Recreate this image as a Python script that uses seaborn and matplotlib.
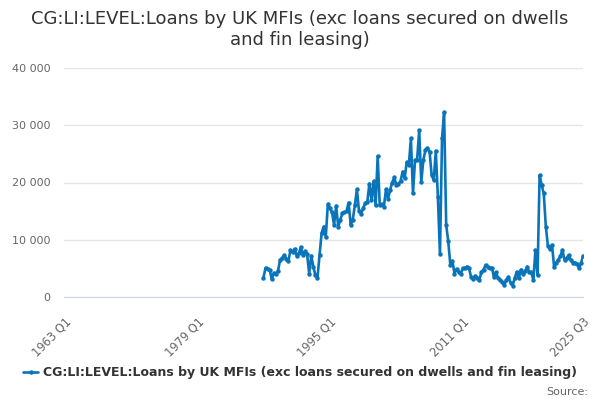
import numpy as np
import pandas as pd
import matplotlib
matplotlib.use("Agg")
import matplotlib.pyplot as plt
import seaborn as sns

title = "CG:LI:LEVEL:Loans by UK MFIs (exc loans secured on dwells\nand fin leasing)"
series_name = "CG:LI:LEVEL:Loans by UK MFIs (exc loans secured on dwells and fin leasing)"

first_year = 1963
last_year, last_q = 2025, 3
data_start = "1987 Q1"

# quarterly values, 1987 Q1 .. 2025 Q3
values = [
    3400, 5100, 4900, 4700, 3100, 4200, 4000, 4600,
    6500, 6800, 7300, 6700, 6300, 8200, 7800, 8400,
    7200, 7600, 8700, 7300, 8000, 7500, 4100, 7200,
    5300, 3800, 3400, 7300, 11200, 12300, 10500, 16200,
    15500, 14800, 12600, 15900, 12300, 13500, 14600, 14800,
    15000, 16500, 12600, 13500, 16000, 18800, 15000, 14500,
    15500, 16400, 16600, 19800, 17000, 20200, 16000, 24600,
    16000, 16200, 15800, 18800, 17200, 18700, 20000, 20900,
    19500, 19800, 20200, 21900, 20700, 23600, 23000, 27700,
    18100, 23900, 24000, 29100, 20100, 23900, 25700, 26000,
    25400, 21300, 20400, 25500, 17500, 7500, 27700, 32300,
    12600, 9700, 5600, 6300, 4100, 4900, 4300, 4000,
    5000, 5100, 5300, 5000, 3500, 3200, 3700, 3300,
    3000, 4400, 4800, 5600, 5200, 5000, 5100, 3500,
    4300, 3300, 3000, 2600, 2100, 3000, 3500, 2500,
    2000, 3300, 4400, 3300, 4800, 4000, 4500, 5300,
    4300, 4300, 3000, 8200, 3800, 21300, 19500, 18100,
    12300, 8900, 8400, 9100, 5200, 6000, 6500, 7100,
    8200, 6500, 6800, 7300, 6500, 6000, 6000, 5800,
    5000, 6000, 7200,
]

quarters = [f"{y} Q{q}" for y in range(first_year, last_year + 1) for q in range(1, 5)]
quarters = quarters[: quarters.index(f"{last_year} Q{last_q}") + 1]
start = quarters.index(data_start)

df = pd.DataFrame({
    "pos": np.arange(start, start + len(values)),
    "value": values,
})

sns.set_style("white")
plt.rcParams["font.family"] = ["DejaVu Sans"]

color = "#0a74bb"
fig = plt.figure(figsize=(6, 4), dpi=100)
ax = fig.add_axes([0.107, 0.2575, 0.865, 0.5725])

sns.lineplot(data=df, x="pos", y="value", ax=ax, color=color, linewidth=1.9,
             marker="o", markersize=3.2, markeredgewidth=0, label=series_name,
             legend=False)

ax.set_xlim(0, len(quarters) - 1)
ax.set_ylim(0, 40000)
ax.set_yticks([0, 10000, 20000, 30000, 40000])
ax.set_yticklabels(["0", "10 000", "20 000", "30 000", "40 000"], color="#666666", fontsize=8)
ax.yaxis.grid(True, color="#e6e6e6", linewidth=1)
ax.tick_params(axis="y", length=0, pad=10)

minor = list(range(0, len(quarters), 16)) + [len(quarters) - 1]
ax.set_xticks(minor)
labels = [quarters[i] if (i % 64 == 0 or i == len(quarters) - 1) else "" for i in minor]
ax.set_xticklabels(labels, rotation=45, ha="right", rotation_mode="anchor",
                   color="#666666", fontsize=8.3)
ax.tick_params(axis="x", length=10, width=1, color="#ccd6eb", direction="out", pad=3)

for s in ["top", "right", "left"]:
    ax.spines[s].set_visible(False)
ax.spines["bottom"].set_color("#ccd6eb")
ax.set_xlabel("")
ax.set_ylabel("")

fig.suptitle(title, y=0.975, fontsize=13, color="#333333")

handles, lbls = ax.get_legend_handles_labels()
fig.legend(handles, lbls, loc="center", bbox_to_anchor=(0.5, 0.068), frameon=False,
           prop={"size": 9, "weight": "bold"}, labelcolor="#333333",
           handlelength=1.2, handletextpad=0.4)

fig.text(0.98, 0.02, "Source:", ha="right", va="center", fontsize=8, color="#666666")

fig.savefig("out.png", dpi=100)
